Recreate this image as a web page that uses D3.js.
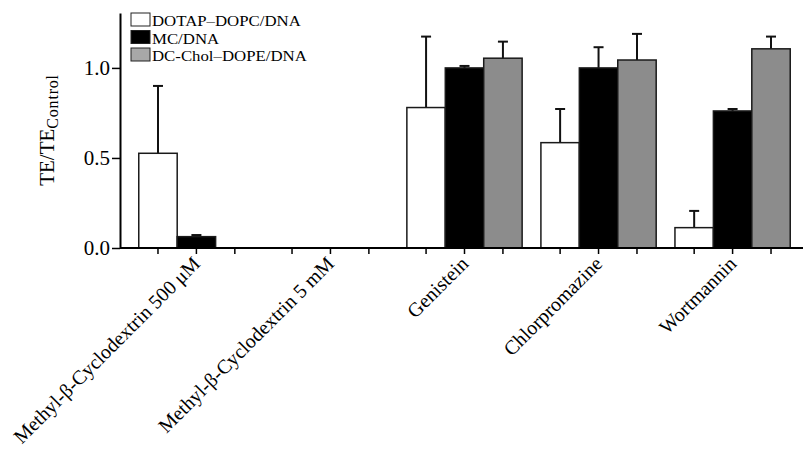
<!DOCTYPE html>
<html>
<head>
<meta charset="utf-8">
<script src="https://cdnjs.cloudflare.com/ajax/libs/d3/7.8.5/d3.min.js"></script>
<style>
  body { margin: 0; background: #fff; }
  svg { display: block; font-family: "Liberation Serif", "Times New Roman", serif; }
</style>
</head>
<body>
<div id="chart"></div>
<script>
// data
const groups = ["Methyl-β-Cyclodextrin 500 μM", "Methyl-β-Cyclodextrin 5 mM", "Genistein", "Chlorpromazine", "Wortmannin"];
const seriesNames = ["DOTAP–DOPC/DNA", "MC/DNA", "DC-Chol–DOPE/DNA"];
const dotapValues = [0.526, 0, 0.78, 0.585, 0.113];
const dotapErrors = [0.374, 0, 0.394, 0.187, 0.093];
const mcValues = [0.063, 0, 1.0, 1.0, 0.761];
const mcErrors = [0.009, 0, 0.011, 0.115, 0.011];
const dcValues = [0, 0, 1.054, 1.044, 1.106];
const dcErrors = [0, 0, 0.092, 0.145, 0.068];
const yTicks = [0, 0.5, 1.0];

const W = 803, H = 452;
const fills = ["#ffffff", "#000000", "#8c8c8c"];
const legendFills = ["#ffffff", "#000000", "#a8a8a8"];

const svg = d3.select("#chart").append("svg")
    .attr("width", W)
    .attr("height", H);

const x0 = d3.scaleBand()
    .domain(groups)
    .range([120, 809])
    .paddingInner(0.14)
    .paddingOuter(0.14);

const x1 = d3.scaleBand()
    .domain(seriesNames)
    .range([0, x0.bandwidth()]);

const y = d3.scaleLinear()
    .domain([0, 1.305])
    .range([248, 13]);

const vals = [dotapValues, mcValues, dcValues];
const errs = [dotapErrors, mcErrors, dcErrors];

const rows = [];
groups.forEach((g, gi) => {
    seriesNames.forEach((s, si) => {
        rows.push({ g: g, s: s, si: si, v: vals[si][gi], e: errs[si][gi] });
    });
});

// error bars first so the bars sit on top
const eb = svg.append("g")
    .attr("stroke", "#111")
    .attr("stroke-width", 2);

rows.filter(d => d.e > 0).forEach(d => {
    const cx = x0(d.g) + x1(d.s) + x1.bandwidth() / 2;
    eb.append("line")
        .attr("x1", cx).attr("x2", cx)
        .attr("y1", y(d.v)).attr("y2", y(d.v + d.e));
    eb.append("line")
        .attr("x1", cx - 5).attr("x2", cx + 5)
        .attr("y1", y(d.v + d.e)).attr("y2", y(d.v + d.e));
});

svg.append("g")
    .selectAll("rect")
    .data(rows)
    .enter().append("rect")
    .attr("x", d => x0(d.g) + x1(d.s))
    .attr("y", d => y(d.v))
    .attr("width", x1.bandwidth())
    .attr("height", d => y(0) - y(d.v))
    .attr("fill", d => fills[d.si])
    .attr("stroke", "#1a1a1a")
    .attr("stroke-width", 1.5);

// x axis line and a tick under every bar
svg.append("line")
    .attr("x1", 120).attr("x2", W)
    .attr("y1", y(0)).attr("y2", y(0))
    .attr("stroke", "#000")
    .attr("stroke-width", 2);

svg.append("g")
    .selectAll("line")
    .data(rows)
    .enter().append("line")
    .attr("x1", d => x0(d.g) + x1(d.s) + x1.bandwidth() / 2)
    .attr("x2", d => x0(d.g) + x1(d.s) + x1.bandwidth() / 2)
    .attr("y1", y(0))
    .attr("y2", y(0) + 6)
    .attr("stroke", "#000")
    .attr("stroke-width", 1.5);

svg.append("g")
    .selectAll("text")
    .data(groups)
    .enter().append("text")
    .attr("text-anchor", "end")
    .attr("font-size", 20)
    .attr("transform", d => {
        const cx = x0(d) + x0.bandwidth() / 2 + 5;
        return "translate(" + cx + "," + 265 + ") rotate(-45)";
    })
    .text(d => d);

// y axis
const yAxis = svg.append("g")
    .attr("transform", "translate(120,0)")
    .call(d3.axisLeft(y).tickValues(yTicks).tickFormat(d3.format(".1f")).tickSize(8).tickPadding(2).tickSizeOuter(0));

yAxis.select(".domain").attr("stroke-width", 2);
yAxis.selectAll(".tick line").attr("stroke-width", 1.5);
yAxis.selectAll(".tick text")
    .attr("font-family", "Liberation Serif")
    .attr("font-size", 21)
    .attr("fill", "#000");

const yl = svg.append("text")
    .attr("transform", "translate(54,130) rotate(-90)")
    .attr("text-anchor", "middle")
    .attr("font-size", 21);
yl.append("tspan").text("TE/TE");
yl.append("tspan").attr("font-size", 16).attr("dy", 4).attr("letter-spacing", 0.8).text("Control");

// legend
const lg = svg.append("g");
seriesNames.forEach((s, i) => {
    lg.append("rect")
        .attr("x", 131).attr("y", 13 + i * 17.5)
        .attr("width", 19).attr("height", 13)
        .attr("fill", legendFills[i])
        .attr("stroke", "#222")
        .attr("stroke-width", 1);
    lg.append("text")
        .attr("transform", "translate(152," + (26 + i * 17.5) + ") scale(1.12,1)")
        .attr("font-size", 15)
        .text(s);
});
</script>
</body>
</html>
